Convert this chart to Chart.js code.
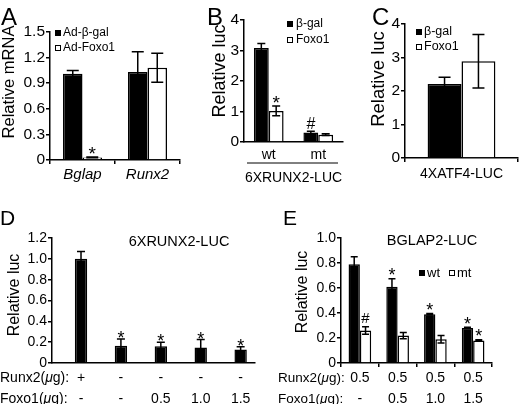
<!DOCTYPE html>
<html><head><meta charset="utf-8">
<script src="https://cdn.jsdelivr.net/npm/chart.js@4.4.1/dist/chart.umd.min.js"></script>
<style>
html,body{margin:0;padding:0;background:#fff;}
#wrap{position:relative;width:520px;height:404px;overflow:hidden;background:#fff;}
canvas{position:absolute;}
</style></head><body>
<div id="wrap">
<canvas id="cA" width="190" height="190" style="left:0;top:0"></canvas>
<canvas id="cB" width="180" height="190" style="left:170px;top:0"></canvas>
<canvas id="cC" width="180" height="190" style="left:340px;top:0"></canvas>
<canvas id="cD" width="260" height="204" style="left:0;top:200px"></canvas>
<canvas id="cE" width="260" height="204" style="left:260px;top:200px"></canvas>
</div>
<script>
// ---------- Panel A data ----------
const categoriesA = ['Bglap', 'Runx2'];
const adBgalA = [1.01, 1.03];
const adBgalErrA = [0.04, 0.24];
const adFoxo1A = [0.03, 1.08];
const adFoxo1ErrA = [0.004, 0.17];
const adBgalMarksA = ['', ''];
const adFoxo1MarksA = ['*', ''];
const yTicksA = [0, 0.3, 0.6, 0.9, 1.2, 1.5];
const yLabelsA = ['0', '0.3', '0.6', '0.9', '1.2', '1.5'];

// ---------- Panel B data ----------
const categoriesB = ['wt', 'mt'];
const bgalB = [3.08, 0.31];
const bgalErrB = [0.15, 0.04];
const foxo1B = [1.02, 0.24];
const foxo1ErrB = [0.16, 0.03];
const bgalMarksB = ['', '#'];
const foxo1MarksB = ['*', ''];
const yTicksB = [0, 1, 2, 3, 4];
const yLabelsB = ['0', '1', '2', '3', '4'];

// ---------- Panel C data ----------
const categoriesC = ['4XATF4-LUC'];
const bgalC = [2.21];
const bgalErrC = [0.2];
const foxo1C = [2.89];
const foxo1ErrC = [0.8];
const yTicksC = [0, 1, 2, 3, 4];
const yLabelsC = ['0', '1', '2', '3', '4'];

// ---------- Panel D data ----------
const runx2RowD = ['+', '-', '-', '-', '-'];
const foxo1RowD = ['-', '-', '0.5', '1.0', '1.5'];
const lucD = [1.0, 0.165, 0.16, 0.15, 0.13];
const lucErrD = [0.07, 0.065, 0.04, 0.075, 0.025];
const lucMarksD = ['', '*', '*', '*', '*'];
const yTicksD = [0, 0.2, 0.4, 0.6, 0.8, 1.0, 1.2];
const yLabelsD = ['0', '0.2', '0.4', '0.6', '0.8', '1.0', '1.2'];

// ---------- Panel E data ----------
const runx2RowE = ['0.5', '0.5', '0.5', '0.5'];
const foxo1RowE = ['-', '0.5', '1.0', '1.5'];
const wtE = [0.79, 0.61, 0.39, 0.28];
const wtErrE = [0.06, 0.065, 0.006, 0.006];
const mtE = [0.26, 0.22, 0.19, 0.18];
const mtErrE = [0.03, 0.025, 0.03, 0.006];
const wtMarksE = ['', '*', '*', '*'];
const mtMarksE = ['#', '', '', '*'];
const yTicksE = [0, 0.2, 0.4, 0.6, 0.8, 1.0];
const yLabelsE = ['0', '0.2', '0.4', '0.6', '0.8', '1.0'];

// ---------- common ----------
const FONT = "'Liberation Sans', Arial, Helvetica, sans-serif";
const BLACK = '#000', WHITE = '#fff', LW = 1.5;
Chart.defaults.font.family = FONT;
Chart.defaults.color = BLACK;
Chart.defaults.animation = false;
Chart.defaults.plugins.legend.display = false;
Chart.defaults.plugins.tooltip.enabled = false;

function gridOpts(tick) {
  return { display: true, drawOnChartArea: false, drawTicks: tick, tickLength: 4, color: BLACK, lineWidth: LW };
}
const borderOpts = { display: true, color: BLACK, width: LW };

// y axis; its title text is kept in the scale options and drawn by the decor plugin at a fixed spot
function yAxis(c) {
  return {
    type: 'linear', min: c.ticks[0], max: c.ticks[c.ticks.length - 1],
    afterBuildTicks: s => { s.ticks = c.ticks.map(v => ({ value: v })); },
    afterFit: s => { s.width = c.width; },
    ticks: { callback: (v, i) => c.labels[i], font: { size: c.tickSize }, color: BLACK, padding: 1 },
    grid: gridOpts(true), border: borderOpts,
    title: { display: false, text: c.title, color: BLACK, font: { size: c.titleSize } }
  };
}
function xCat(c) {
  return {
    type: 'category', offset: true,
    afterFit: s => { s.height = c.height; },
    ticks: { font: { size: c.size, style: c.style || 'normal', lineHeight: c.lh || 1.2 }, color: BLACK, padding: c.pad, maxRotation: 0, autoSkip: false },
    grid: Object.assign(gridOpts(c.tick), { offset: true }),
    border: borderOpts,
    title: c.title ? { display: true, text: c.title, color: BLACK, font: { size: c.titleSize }, padding: { top: 0, bottom: c.titlePad } } : { display: false }
  };
}
function barSet(label, data, errors, marks, fill, cp) {
  return { label, data, errors, marks, backgroundColor: fill, borderColor: BLACK, borderWidth: LW,
    borderSkipped: 'bottom', categoryPercentage: cp || 0.6, barPercentage: 1.0 };
}

function drawText(ctx, item) {
  const parts = item.parts || [{ t: item.text, italic: item.italic }];
  const fontFor = p => `${p.italic ? 'italic ' : ''}${item.size}px ${FONT}`;
  let total = 0;
  parts.forEach(p => { ctx.font = fontFor(p); total += ctx.measureText(p.t).width; });
  let x = item.align === 'center' ? item.x - total / 2 : item.x;
  ctx.textBaseline = item.baseline || 'alphabetic';
  ctx.textAlign = 'left';
  ctx.fillStyle = BLACK;
  parts.forEach(p => { ctx.font = fontFor(p); ctx.fillText(p.t, x, item.y); x += ctx.measureText(p.t).width; });
}

const decor = {
  id: 'decor',
  afterDraw(chart, args, o) {
    const ctx = chart.ctx, ys = chart.scales.y;
    ctx.save();
    chart.data.datasets.forEach((ds, di) => {
      const meta = chart.getDatasetMeta(di);
      meta.data.forEach((el, i) => {
        const d = ds.data[i];
        const v = (typeof d === 'object') ? d.y : d;
        const e = ds.errors ? ds.errors[i] : 0;
        const top = ys.getPixelForValue(v + e), bot = ys.getPixelForValue(v - e);
        const h = o.cap / 2;
        ctx.strokeStyle = BLACK; ctx.lineWidth = LW;
        ctx.beginPath();
        ctx.moveTo(el.x, top); ctx.lineTo(el.x, bot);
        ctx.moveTo(el.x - h, top); ctx.lineTo(el.x + h, top);
        ctx.moveTo(el.x - h, bot); ctx.lineTo(el.x + h, bot);
        ctx.stroke();
        const m = ds.marks && ds.marks[i];
        if (m) {
          ctx.textAlign = 'center'; ctx.textBaseline = 'alphabetic'; ctx.fillStyle = BLACK;
          if (m === '*') {
            ctx.font = `${o.starSize}px ${FONT}`;
            ctx.fillText(m, el.x, top - o.starLift + 0.57 * o.starSize);
          } else {
            ctx.font = `${o.hashSize}px ${FONT}`;
            ctx.fillText(m, el.x, top - o.hashGap);
          }
        }
      });
    });
    if (o.legend) {
      const L = o.legend;
      chart.data.datasets.forEach((ds, di) => {
        const bx = L.x + (L.horizontal ? di * L.colGap : 0);
        const by = L.y + (L.horizontal ? 0 : di * L.rowGap);
        ctx.fillStyle = ds.backgroundColor;
        ctx.fillRect(bx, by - L.box / 2, L.box, L.box);
        ctx.strokeStyle = BLACK; ctx.lineWidth = 1;
        ctx.strokeRect(bx + 0.5, by - L.box / 2 + 0.5, L.box - 1, L.box - 1);
        ctx.font = `${L.size}px ${FONT}`;
        ctx.fillStyle = BLACK; ctx.textAlign = 'left'; ctx.textBaseline = 'middle';
        ctx.fillText(ds.label, bx + L.box + L.gap, by);
      });
    }
    // rotated y-axis title, text and font taken from the y scale's title options
    if (o.yTitle) {
      const t = chart.options.scales.y.title;
      ctx.save();
      ctx.translate(o.yTitle.x, o.yTitle.y);
      ctx.rotate(-Math.PI / 2);
      ctx.font = `${t.font.size}px ${FONT}`;
      ctx.fillStyle = BLACK; ctx.textAlign = 'center'; ctx.textBaseline = 'middle';
      ctx.fillText(t.text, 0, 0);
      ctx.restore();
    }
    (o.lines || []).forEach(l => {
      ctx.strokeStyle = BLACK; ctx.lineWidth = l.w || 1;
      ctx.beginPath(); ctx.moveTo(l.x1, l.y); ctx.lineTo(l.x2, l.y); ctx.stroke();
    });
    (o.texts || []).forEach(t => drawText(ctx, t));
    ctx.restore();
  }
};

const rowHead = (name, x, y, size) => ({ parts: [{ t: name + '(' }, { t: 'μ', italic: true }, { t: 'g):' }], x, y, size: size || 14, baseline: 'middle' });

// ---------- Panel A ----------
new Chart(document.getElementById('cA'), {
  type: 'bar',
  data: { labels: categoriesA, datasets: [
    barSet('Ad-β-gal', adBgalA, adBgalErrA, adBgalMarksA, BLACK),
    barSet('Ad-Foxo1', adFoxo1A, adFoxo1ErrA, adFoxo1MarksA, WHITE)
  ] },
  options: {
    responsive: false,
    layout: { padding: { left: 0, top: 32, right: 10, bottom: 0 } },
    scales: {
      x: xCat({ height: 30, size: 15, style: 'italic', pad: 2, tick: true }),
      y: yAxis({ ticks: yTicksA, labels: yLabelsA, width: 50, tickSize: 15.5, title: 'Relative mRNA', titleSize: 16.5 })
    },
    plugins: { decor: { cap: 12, starSize: 19, starLift: 8, hashSize: 16, hashGap: 2,
      yTitle: { x: 9, y: 82 },
      legend: { x: 55, y: 33, rowGap: 15, box: 6, gap: 2, size: 12 },
      texts: [{ text: 'A', x: 1, y: 25, size: 24 }] } }
  },
  plugins: [decor]
});

// ---------- Panel B ----------
new Chart(document.getElementById('cB'), {
  type: 'bar',
  data: { labels: categoriesB, datasets: [
    barSet('β-gal', bgalB, bgalErrB, bgalMarksB, BLACK),
    barSet('Foxo1', foxo1B, foxo1ErrB, foxo1MarksB, WHITE)
  ] },
  options: {
    responsive: false,
    layout: { padding: { left: 0, top: 20, right: 7, bottom: 0 } },
    scales: {
      x: xCat({ height: 48, size: 14, pad: 4.6, tick: false, title: '6XRUNX2-LUC', titleSize: 14, titlePad: 3.6 }),
      y: yAxis({ ticks: yTicksB, labels: yLabelsB, width: 74, tickSize: 15.5, title: 'Relative luc', titleSize: 18 })
    },
    plugins: { decor: { cap: 8, starSize: 19, starLift: 8, hashSize: 16, hashGap: 2,
      yTitle: { x: 50, y: 71 },
      legend: { x: 117, y: 24, rowGap: 16, box: 6, gap: 3, size: 12 },
      lines: [{ x1: 77, x2: 168, y: 163, w: 1 }],
      texts: [{ text: 'B', x: 37, y: 25, size: 24 }] } }
  },
  plugins: [decor]
});

// ---------- Panel C ----------
new Chart(document.getElementById('cC'), {
  type: 'bar',
  data: { labels: categoriesC, datasets: [
    barSet('β-gal', bgalC, bgalErrC, null, BLACK),
    barSet('Foxo1', foxo1C, foxo1ErrC, null, WHITE)
  ] },
  options: {
    responsive: false,
    layout: { padding: { left: 0, top: 24, right: 2, bottom: 0 } },
    scales: {
      x: xCat({ height: 32, size: 14, pad: 3.6, tick: true }),
      y: yAxis({ ticks: yTicksC, labels: yLabelsC, width: 65, tickSize: 15.5, title: 'Relative luc', titleSize: 18.5 })
    },
    plugins: { decor: { cap: 12, starSize: 19, starLift: 8, hashSize: 16, hashGap: 2,
      yTitle: { x: 39, y: 79 },
      legend: { x: 76, y: 32, rowGap: 15, box: 6, gap: 2, size: 12.5 },
      texts: [{ text: 'C', x: 32, y: 25, size: 24 }] } }
  },
  plugins: [decor]
});

// ---------- Panel D ----------
new Chart(document.getElementById('cD'), {
  type: 'bar',
  data: { datasets: [
    barSet('luc', lucD.map((v, i) => ({ x: i, y: v })), lucErrD, lucMarksD, BLACK, 0.31)
  ] },
  options: {
    responsive: false,
    layout: { padding: { left: 0, top: 38, right: 5, bottom: 0 } },
    scales: {
      x: {
        type: 'linear', offset: false, min: -0.727, max: 4.36,
        afterBuildTicks: s => { s.ticks = runx2RowD.map((_, i) => ({ value: i })); },
        afterFit: s => { s.height = 41; },
        ticks: { callback: (v) => [runx2RowD[Math.round(v)], foxo1RowD[Math.round(v)]],
          font: { size: 14, lineHeight: 1.5 }, color: BLACK, padding: 5, maxRotation: 0, autoSkip: false },
        grid: gridOpts(false), border: borderOpts
      },
      y: yAxis({ ticks: yTicksD, labels: yLabelsD, width: 52, tickSize: 14, title: 'Relative luc', titleSize: 16 })
    },
    plugins: { decor: { cap: 8, starSize: 18, starLift: 5, hashSize: 16, hashGap: 2,
      yTitle: { x: 15, y: 95 },
      texts: [
        { text: 'D', x: 0, y: 25, size: 21 },
        { text: '6XRUNX2-LUC', x: 179, y: 42, size: 14.5, align: 'center', baseline: 'middle' },
        rowHead('Runx2', 0, 178.5, 14),
        rowHead('Foxo1', 0, 199.5, 14)
      ] } }
  },
  plugins: [decor]
});

// ---------- Panel E ----------
new Chart(document.getElementById('cE'), {
  type: 'bar',
  data: { labels: runx2RowE.map((r, i) => [r, foxo1RowE[i]]), datasets: [
    barSet('wt', wtE, wtErrE, wtMarksE, BLACK),
    barSet('mt', mtE, mtErrE, mtMarksE, WHITE)
  ] },
  options: {
    responsive: false,
    layout: { padding: { left: 0, top: 38, right: 28, bottom: 0 } },
    scales: {
      x: xCat({ height: 41, size: 14, lh: 1.5, pad: 1, tick: true }),
      y: yAxis({ ticks: yTicksE, labels: yLabelsE, width: 81, tickSize: 14, title: 'Relative luc', titleSize: 16 })
    },
    plugins: { decor: { cap: 7, starSize: 18, starLift: 8, hashSize: 15, hashGap: 4,
      yTitle: { x: 43, y: 92 },
      legend: { x: 159, y: 73, horizontal: true, colGap: 30, box: 6, gap: 2, size: 13 },
      texts: [
        { text: 'E', x: 23, y: 25, size: 21 },
        { text: 'BGLAP2-LUC', x: 172, y: 41, size: 14.5, align: 'center', baseline: 'middle' },
        rowHead('Runx2', 18, 178.5, 13.5),
        rowHead('Foxo1', 18, 199.5, 13.5)
      ] } }
  },
  plugins: [decor]
});
</script>
</body></html>
